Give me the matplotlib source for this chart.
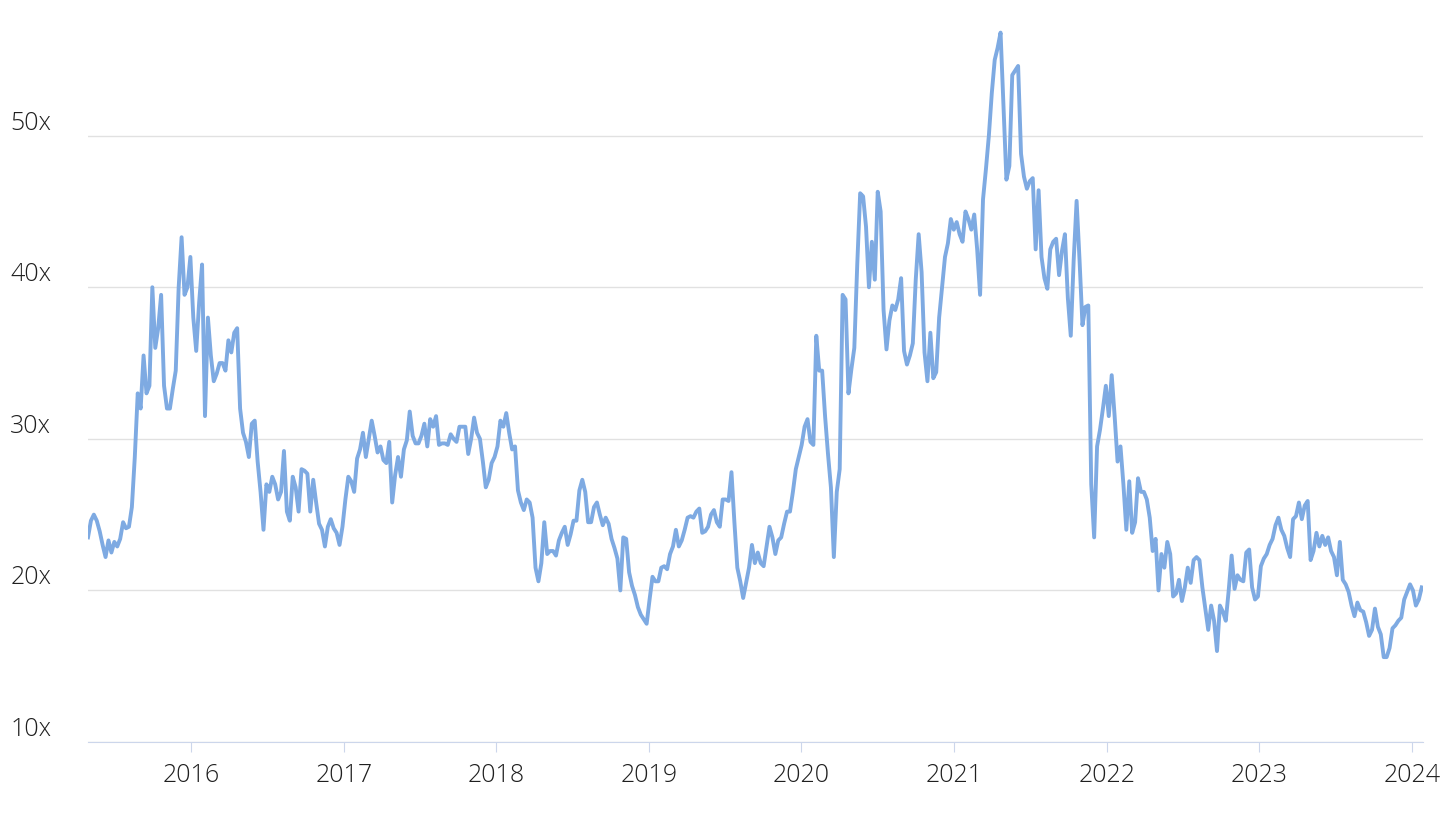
import pandas as pd
import matplotlib.pyplot as plt
import matplotlib.dates as mdates

# weekly P/E multiple readings, first week starting 2015-04-30
start_date = '2015-04-30'

pe_2015 = [23.5, 24.6, 25.0, 24.6, 23.9, 23.0, 22.2, 23.3, 22.5, 23.2,
           22.9, 23.4, 24.5, 24.1, 24.2, 25.5, 28.8, 33.0, 32.0, 35.5,
           33.0, 33.5, 40.0, 36.0, 37.3, 39.5, 33.5, 32.0, 32.0, 33.3,
           34.5, 40.0, 43.3, 39.5, 40.0, 42.0]
pe_2016 = [38.0, 35.8, 39.0, 41.5, 31.5, 38.0, 35.5, 33.8, 34.3, 35.0,
           35.0, 34.5, 36.5, 35.7, 37.0, 37.3, 32.0, 30.4, 29.8, 28.8,
           31.0, 31.2, 28.5, 26.5, 24.0, 27.0, 26.5, 27.5, 27.0, 26.0,
           26.5, 29.2, 25.2, 24.6, 27.5, 26.8, 25.2, 28.0, 27.9, 27.7,
           25.2, 27.3, 25.8, 24.4, 24.0, 22.9, 24.2, 24.7, 24.1, 23.8,
           23.0, 24.2]
pe_2017 = [26.0, 27.5, 27.2, 26.5, 28.7, 29.3, 30.4, 28.8, 30.0, 31.2,
           30.2, 29.1, 29.5, 28.6, 28.4, 29.8, 25.8, 27.6, 28.8, 27.5,
           29.3, 29.9, 31.8, 30.2, 29.7, 29.7, 30.2, 31.0, 29.5, 31.3,
           30.8, 31.5, 29.6, 29.7, 29.7, 29.6, 30.3, 30.0, 29.8, 30.8,
           30.8, 30.8, 29.0, 30.0, 31.4, 30.4, 30.0, 28.5, 26.8, 27.3,
           28.4, 28.8]
pe_2018 = [29.5, 31.2, 30.8, 31.7, 30.4, 29.3, 29.5, 26.6, 25.8, 25.3,
           26.0, 25.8, 24.8, 21.5, 20.6, 21.8, 24.5, 22.4, 22.6, 22.6,
           22.3, 23.3, 23.8, 24.2, 23.0, 23.7, 24.6, 24.6, 26.6, 27.3,
           26.5, 24.5, 24.5, 25.5, 25.8, 25.0, 24.3, 24.8, 24.4, 23.4,
           22.8, 22.1, 20.0, 23.5, 23.4, 21.2, 20.3, 19.7, 18.9, 18.4,
           18.1, 17.8]
pe_2019 = [19.4, 20.9, 20.6, 20.6, 21.5, 21.6, 21.4, 22.4, 22.9, 24.0,
           22.9, 23.3, 24.0, 24.8, 24.9, 24.8, 25.2, 25.4, 23.8, 23.9,
           24.2, 25.0, 25.3, 24.5, 24.2, 26.0, 26.0, 25.9, 27.8, 24.5,
           21.5, 20.6, 19.5, 20.5, 21.5, 23.0, 21.8, 22.5, 21.8, 21.6,
           22.9, 24.2, 23.5, 22.4, 23.3, 23.5, 24.4, 25.2, 25.2, 26.5,
           28.0, 28.8]
pe_2020 = [29.6, 30.8, 31.3, 29.8, 29.6, 36.8, 34.5, 34.5, 31.5, 29.0,
           26.8, 22.2, 26.5, 28.0, 39.5, 39.2, 33.0, 34.6, 36.0, 41.5,
           46.2, 46.0, 44.0, 40.0, 43.0, 40.5, 46.3, 45.0, 38.5, 35.9,
           37.8, 38.8, 38.5, 39.2, 40.6, 35.8, 34.9, 35.5, 36.3, 40.5,
           43.5, 41.0, 35.7, 33.8, 37.0, 34.0, 34.4, 38.0, 40.0, 42.0,
           42.9, 44.5, 43.8]
pe_2021 = [44.3, 43.5, 43.0, 45.0, 44.5, 43.8, 44.8, 42.5, 39.5, 45.8,
           47.8, 50.0, 52.8, 55.0, 55.8, 56.8, 52.0, 47.1, 48.0, 54.0,
           54.3, 54.6, 48.8, 47.3, 46.5, 47.0, 47.2, 42.5, 46.4, 42.0,
           40.6, 39.9, 42.5, 43.0, 43.2, 40.8, 42.4, 43.5, 39.3, 36.8,
           41.8, 45.7, 41.8, 37.5, 38.7, 38.8, 27.0, 23.5, 29.5, 30.6,
           32.0, 33.5]
pe_2022 = [31.5, 34.2, 31.5, 28.5, 29.5, 27.0, 24.0, 27.2, 23.8, 24.5,
           27.4, 26.5, 26.5, 26.0, 24.8, 22.6, 23.4, 20.0, 22.4, 21.5,
           23.2, 22.4, 19.6, 19.8, 20.7, 19.3, 20.2, 21.5, 20.5, 22.0,
           22.2, 22.0, 20.2, 18.8, 17.4, 19.0, 18.0, 16.0, 19.0, 18.6,
           18.0, 20.0, 22.3, 20.1, 21.0, 20.7, 20.6, 22.5, 22.7, 20.2,
           19.4, 19.6]
pe_2023 = [21.6, 22.1, 22.4, 23.0, 23.4, 24.3, 24.8, 24.0, 23.6, 22.8,
           22.2, 24.7, 24.9, 25.8, 24.7, 25.6, 25.9, 22.0, 22.6, 23.8,
           22.9, 23.6, 23.0, 23.5, 22.6, 22.2, 21.0, 23.2, 20.7, 20.4,
           19.9, 19.0, 18.3, 19.2, 18.7, 18.6, 17.9, 17.0, 17.4, 18.8,
           17.6, 17.1, 15.6, 15.6, 16.2, 17.5, 17.7, 18.0, 18.2, 19.4,
           19.9, 20.4]
pe_2024 = [20.0, 19.0, 19.4, 20.2]

pe_values = (pe_2015 + pe_2016 + pe_2017 + pe_2018 + pe_2019 +
             pe_2020 + pe_2021 + pe_2022 + pe_2023 + pe_2024)
dates = pd.date_range(start_date, periods=len(pe_values), freq='7D')

y_ticks = [10, 20, 30, 40, 50]
y_labels = [f'{v}x' for v in y_ticks]

plt.rcParams['font.family'] = ['Open Sans', 'DejaVu Sans']
plt.rcParams['font.weight'] = 'light'

fig = plt.figure(figsize=(14.56, 8.15), dpi=100)
ax = fig.add_axes([88 / 1456, 73 / 815, 1335 / 1456, 720 / 815])

ax.plot(dates, pe_values, color='#7eaae2', lw=2.8, solid_joinstyle='round')

ax.set_xlim(pd.Timestamp('2015-04-30'), pd.Timestamp('2024-01-28'))
ax.set_ylim(10, 57.5)

# y axis: labels sit just above their grid line, flush left
ax.set_yticks(y_ticks)
ax.set_yticklabels(y_labels, ha='left', va='bottom')
ax.tick_params(axis='y', length=0, pad=56, labelsize=18, labelcolor='#1f1f1f')

ax.xaxis.set_major_locator(mdates.YearLocator())
ax.xaxis.set_major_formatter(mdates.DateFormatter('%Y'))
ax.tick_params(axis='x', length=7, width=0.8, color='#ccd6eb', pad=8,
               labelsize=18, labelcolor='#1f1f1f')

ax.grid(axis='y', color='#e1e1e1', lw=1)
ax.set_axisbelow(True)
for side in ['top', 'right', 'left']:
    ax.spines[side].set_visible(False)
ax.spines['bottom'].set_color('#ccd6eb')
ax.spines['bottom'].set_linewidth(0.8)

fig.savefig('out.png', dpi=100, facecolor='white')
